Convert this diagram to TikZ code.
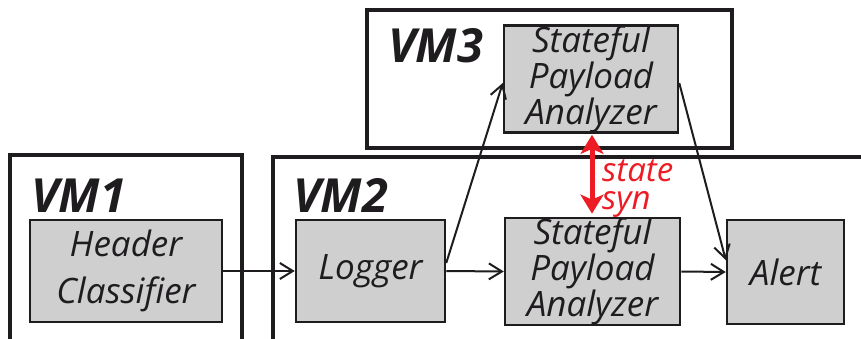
\documentclass[tikz,border=0pt]{standalone}
\usepackage{fontspec}
\setmainfont{Open Sans}
\usetikzlibrary{arrows.meta,calc}
\definecolor{boxgray}{RGB}{208,207,208}
\definecolor{ink}{RGB}{30,28,30}
\definecolor{synred}{RGB}{237,28,36}
\tikzset{
  vmbox/.style={draw=ink,line width=4pt},
  fbox/.style={draw=ink,line width=2.5pt,fill=boxgray,inner sep=0pt,align=center,text=ink,
     font=\fontsize{35}{29}\selectfont\itshape},
  vmlabel/.style={anchor=base west,inner sep=0pt,text=ink,font=\fontsize{47}{47}\selectfont\bfseries\itshape},
  flow/.style={draw=ink,line width=2pt,-{Straight Barb[length=13pt,width=16pt,line width=2pt]}},
  syncarrow/.style={draw=synred,line width=5pt,{Stealth[length=19pt,width=23pt,inset=5pt]}-{Stealth[length=19pt,width=23pt,inset=5pt]}},
}
\begin{document}
\begin{tikzpicture}[x=1pt,y=-1pt]
\useasboundingbox (0,0) rectangle (861,339);
\clip (0,0) rectangle (861,339);
\fill[white] (0,0) rectangle (861,339);
% VM outlines
\draw[vmbox] (10,155) rectangle (242,341);
\draw[vmbox] (273,157) rectangle (875,341);
\draw[vmbox] (367,10) rectangle (732,148);
\node[vmlabel] (vm1) at (31,212) {VM1};
\node[vmlabel] (vm2) at (293,212) {VM2};
\node[vmlabel] (vm3) at (388,63) {VM3};
% function boxes
\node[fbox,minimum width=192pt,minimum height=102pt,font=\fontsize{35}{47}\selectfont\itshape] (hc) at (126,271) {Header\\Classifier};
\node[fbox,minimum width=149pt,minimum height=102pt] (log) at (370.5,271) {Logger};
\node[fbox,minimum width=175pt,minimum height=103pt] (s2) at (592.5,271.5) {Stateful\\Payload\\Analyzer};
\node[fbox,minimum width=117pt,minimum height=104pt] (al) at (785.5,272) {Alert};
\node[fbox,minimum width=174pt,minimum height=102pt] (s3) at (591,79) {Stateful\\Payload\\Analyzer};
% connectors
\draw[flow] (hc.east) -- (log.west);
\draw[flow] (log.east) -- (s2.west);
\draw[flow] ($(log.east)+(0,-8)$) -- ($(s3.west)+(0,4)$);
\draw[flow] ($(s3.east)+(0,4)$) -- ($(al.west)+(0,-12)$);
\draw[flow] (s2.east) -- (al.west);
\draw[syncarrow] ($(s3.south)+(1,1)$) -- ($(s2.north)+(-0.5,-3)$);
\node[anchor=base west,inner sep=0pt,align=left,text=synred,font=\fontsize{33}{28}\selectfont\itshape] (syn) at (602,209) {state\\syn};
\end{tikzpicture}
\end{document}
